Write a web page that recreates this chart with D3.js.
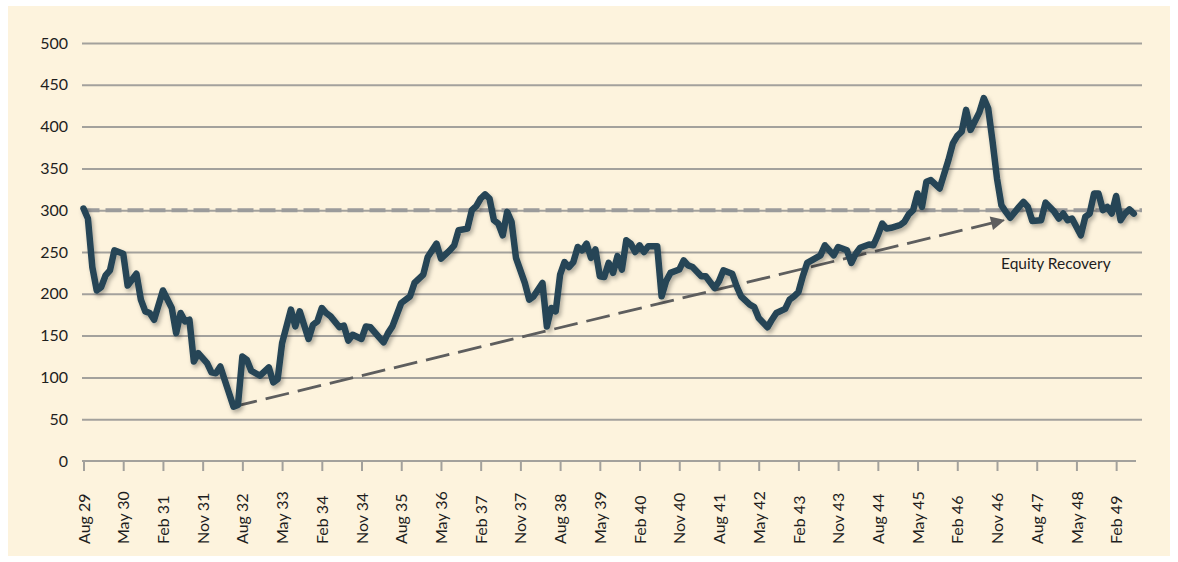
<!DOCTYPE html>
<html lang="en">
<head>
<meta charset="UTF-8" />
<title>Equity Recovery</title>
<script src="https://cdn.jsdelivr.net/npm/d3@7/dist/d3.min.js"></script>
<style>
  body { margin: 0; background: #ffffff; }
  text { font-family: Lato, "Open Sans", sans-serif; fill: #1e1e1e; }
</style>
</head>
<body>
<svg id="chart" width="1178" height="562"></svg>
<script>
// month offsets from Aug 1929 and index level
var monthIdx = [0,1,2,3,4,5,6,7,9,10,12,13,14,15,16,18,20,21,22,23,24,25,26,28,29,30,31,32,34,35,36,37,38,40,42,43,44,45,47,48,49,51,52,53,54,55,56,58,59,60,61,63,64,65,67,68,69,70,72,74,75,77,78,80,81,83,84,85,87,88,89,90,91,92,93,94,95,96,97,98,100,101,102,104,105,106,107,108,109,110,111,112,113,114,115,116,117,118,119,120,121,122,123,124,125,126,127,128,130,131,132,133,135,136,137,138,140,141,143,144,145,147,148,149,151,152,153,155,156,157,159,160,161,162,163,164,166,167,168,170,171,173,174,175,176,178,179,180,181,182,183,185,186,187,188,189,190,191,192,194,196,197,198,199,200,201,203,204,205,206,207,208,209,210,212,213,214,215,217,218,220,221,222,223,224,226,227,228,229,230,231,232,233,234,235,236,237,238];
var values = [302,290,232,204,208,222,228,252,248,210,224,193,179,177,169,204,183,153,177,167,169,119,129,117,106,105,113,97,65,67,125,121,108,102,112,94,98,141,181,161,179,146,163,167,183,177,173,160,162,144,151,146,161,160,148,142,153,161,189,197,213,223,244,260,242,252,258,276,278,300,305,314,319,314,288,284,270,298,286,243,213,193,197,213,161,183,179,223,238,232,238,256,252,260,243,253,221,220,237,225,245,229,264,260,250,258,250,257,257,197,215,225,229,240,234,232,221,221,207,215,228,224,209,197,187,184,171,160,169,177,182,193,197,202,221,237,243,246,258,246,256,252,237,248,255,259,258,270,284,278,279,282,286,295,300,320,304,334,336,326,360,380,389,394,420,396,417,434,422,382,338,306,298,291,304,310,304,287,288,309,298,290,296,288,290,270,292,296,320,320,300,304,296,317,288,296,301,296];

var tickLabels = ["Aug 29","May 30","Feb 31","Nov 31","Aug 32","May 33","Feb 34","Nov 34","Aug 35","May 36","Feb 37","Nov 37","Aug 38","May 39","Feb 40","Nov 40","Aug 41","May 42","Feb 43","Nov 43","Aug 44","May 45","Feb 46","Nov 46","Aug 47","May 48","Feb 49"];
var yTicks = [0,50,100,150,200,250,300,350,400,450,500];

var baseLevel = 300;               // dashed reference level
var arrowFrom = [34, 65];          // [month, level]
var arrowTo = [208.5, 288];
var arrowLabel = "Equity Recovery";

var svg = d3.select("#chart");

svg.append("rect")
   .attr("x", 8).attr("y", 6)
   .attr("width", 1162).attr("height", 550)
   .attr("fill", "#fdf3dd");

var defs = svg.append("defs");
var shadow = defs.append("filter").attr("id", "shadow")
   .attr("x", "-5%").attr("y", "-5%").attr("width", "110%").attr("height", "115%");
shadow.append("feDropShadow")
   .attr("dx", 2).attr("dy", 3).attr("stdDeviation", 2)
   .attr("flood-color", "#000").attr("flood-opacity", 0.3);

defs.append("marker")
   .attr("id", "arrow")
   .attr("viewBox", "0 0 10 10")
   .attr("refX", 9).attr("refY", 5)
   .attr("markerWidth", 6).attr("markerHeight", 5)
   .attr("markerUnits", "strokeWidth")
   .attr("orient", "auto")
   .append("path")
   .attr("d", "M0,0 L10,5 L0,10 Z")
   .attr("fill", "#5e5e5e");

var xScale = d3.scaleLinear().domain([0, 238]).range([83.5, 1133.8]);
var yScale = d3.scaleLinear().domain([0, 500]).range([461, 43]);

var gridLeft = 82, gridRight = 1142;

// horizontal grid + y labels
var yAxis = svg.append("g")
   .attr("transform", "translate(" + gridLeft + ",0)")
   .call(d3.axisLeft(yScale)
           .tickValues(yTicks)
           .tickSize(-(gridRight - gridLeft))
           .tickPadding(14)
           .tickFormat(d3.format("d")));
yAxis.select(".domain").remove();
yAxis.selectAll(".tick line")
   .attr("stroke", "#a3a19c").attr("stroke-width", 2)
   .filter(function(d) { return d === 0; }).remove();
yAxis.selectAll(".tick text")
   .style("font-size", "16px");

// x axis
var xAxis = svg.append("g")
   .attr("transform", "translate(0," + yScale(0) + ")")
   .call(d3.axisBottom(xScale)
           .tickValues(d3.range(tickLabels.length).map(function(i) { return i * 9; }))
           .tickSize(10)
           .tickSizeOuter(0)
           .tickFormat(function(d, i) { return tickLabels[i]; }));
xAxis.select(".domain")
   .attr("d", "M" + gridLeft + ",0H1136")
   .attr("stroke", "#a3a19c").attr("stroke-width", 2);
xAxis.selectAll(".tick line").attr("stroke", "#a3a19c").attr("stroke-width", 2);
xAxis.selectAll(".tick text")
   .style("font-size", "16px")
   .attr("text-anchor", "start")
   .attr("transform", "rotate(-90)")
   .attr("x", -83)
   .attr("y", 0)
   .attr("dy", "0.35em");

// dashed 300 level
svg.append("line")
   .attr("x1", xScale(0)).attr("x2", gridRight)
   .attr("y1", yScale(baseLevel)).attr("y2", yScale(baseLevel))
   .attr("stroke", "#9b9b9b")
   .attr("stroke-width", 4)
   .attr("stroke-dasharray", "16,6");

// recovery arrow
svg.append("line")
   .attr("x1", xScale(arrowFrom[0])).attr("y1", yScale(arrowFrom[1]))
   .attr("x2", xScale(arrowTo[0])).attr("y2", yScale(arrowTo[1]))
   .attr("stroke", "#5e5e5e")
   .attr("stroke-width", 2.8)
   .attr("stroke-dasharray", "24,9")
   .attr("marker-end", "url(#arrow)");

svg.append("text")
   .attr("x", 1001).attr("y", 269)
   .style("font-size", "15.5px")
   .text(arrowLabel);

// main series
var series = monthIdx.map(function(m, i) { return [m, values[i]]; });

var line = d3.line()
   .x(function(d) { return xScale(d[0]); })
   .y(function(d) { return yScale(d[1]); });

svg.append("path")
   .datum(series)
   .attr("d", line)
   .attr("fill", "none")
   .attr("stroke", "#254556")
   .attr("stroke-width", 6.5)
   .attr("stroke-linejoin", "round")
   .attr("stroke-linecap", "round")
   .attr("filter", "url(#shadow)");
</script>
</body>
</html>
